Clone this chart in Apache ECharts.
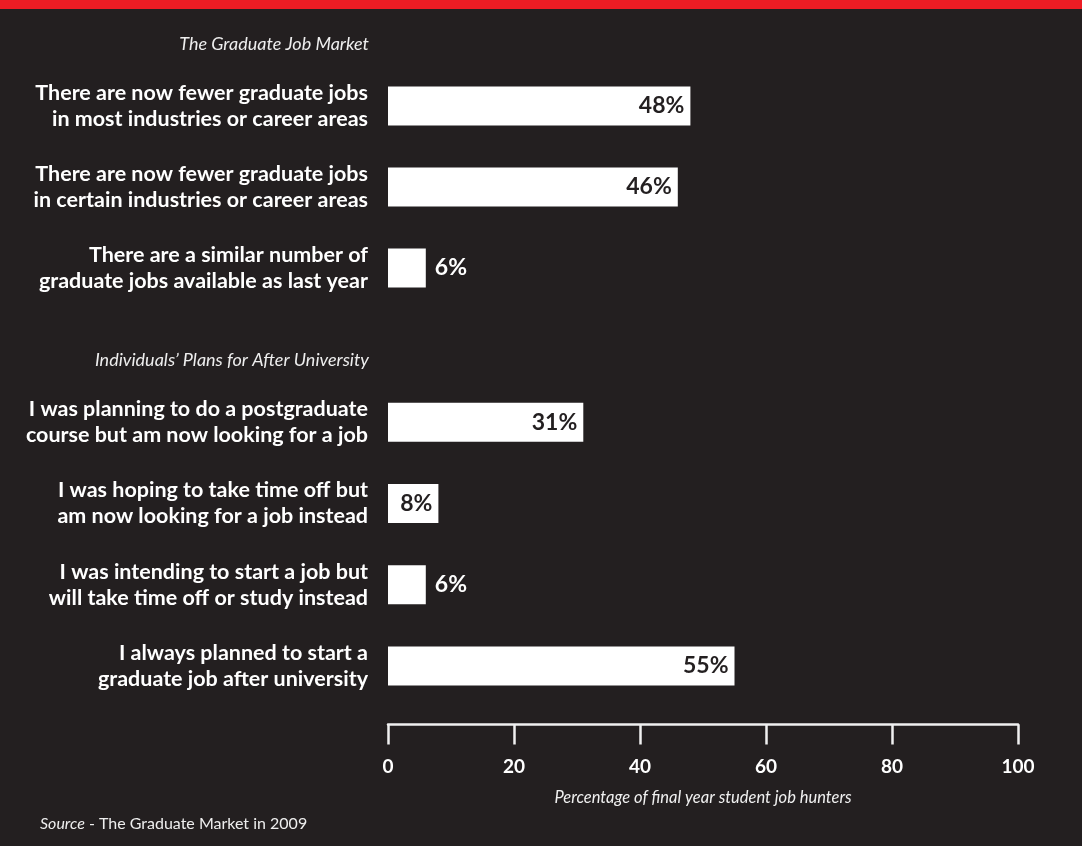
<!DOCTYPE html>
<html>
<head>
<meta charset="utf-8">
<script src="https://cdn.jsdelivr.net/npm/echarts@6/dist/echarts.min.js"></script>
<style>
  html, body { margin: 0; padding: 0; background: #231f20; }
  #chart { width: 1082px; height: 846px; }
</style>
</head>
<body>
<div id="chart"></div>
<script>
// Survey results: the graduate job market
const marketLabels = [
  'There are now fewer graduate jobs\nin most industries or career areas',
  'There are now fewer graduate jobs\nin certain industries or career areas',
  'There are a similar number of\ngraduate jobs available as last year'
];
const marketValues = [48, 46, 6];

// Survey results: individuals' plans for after university
const planLabels = [
  'I was planning to do a postgraduate\ncourse but am now looking for a job',
  'I was hoping to take time off but\nam now looking for a job instead',
  'I was intending to start a job but\nwill take time off or study instead',
  'I always planned to start a\ngraduate job after university'
];
const planValues = [31, 8, 6, 55];

const sectionTitles = ['The Graduate Job Market', 'Individuals\u2019 Plans for After University'];
const xTicks = [0, 20, 40, 60, 80, 100];
const axisTitle = 'Percentage of final year student job hunters';

const BG = '#231f20';
const FONT = 'Lato, "Open Sans", sans-serif';

// Short bars carry their value outside in white; longer ones inside in dark text
function barData(values) {
  return values.map(v => ({
    value: v,
    label: v < 7
      ? { position: 'right', distance: 9, color: '#ffffff' }
      : { position: 'insideRight', distance: 6, color: BG }
  }));
}

function catAxis(idx, labels) {
  return {
    type: 'category', gridIndex: idx, data: labels, inverse: true,
    axisLine: { show: false }, axisTick: { show: false },
    axisLabel: {
      color: '#ffffff', fontFamily: FONT, fontWeight: 'bold', fontSize: 21.5,
      lineHeight: 26, align: 'right', margin: 20
    }
  };
}

const valueLabel = { show: true, fontFamily: FONT, fontWeight: 'bold', fontSize: 23, formatter: '{c}%' };

const chart = echarts.init(document.getElementById('chart'), null, { renderer: 'canvas' });
chart.setOption({
  backgroundColor: BG,
  animation: false,
  grid: [
    { left: 388, right: 64, top: 65.5, height: 243 },
    { left: 388, right: 64, top: 381.5, height: 325 }
  ],
  xAxis: [
    { type: 'value', gridIndex: 0, min: 0, max: 100, show: false },
    {
      type: 'value', gridIndex: 1, min: 0, max: 100, interval: 20,
      offset: 18,
      axisLine: { show: true, lineStyle: { color: '#f0f0f0', width: 2.5 } },
      axisTick: { show: true, length: 20, lineStyle: { color: '#f0f0f0', width: 2.5 } },
      splitLine: { show: false },
      axisLabel: {
        color: '#ffffff', fontFamily: FONT, fontWeight: 'bold', fontSize: 19, margin: 33,
        formatter: v => (xTicks.includes(v) ? String(v) : '')
      },
      name: axisTitle, nameLocation: 'middle', nameGap: 65,
      nameTextStyle: { color: '#f0f0f0', fontFamily: FONT, fontStyle: 'italic', fontSize: 16.5 }
    }
  ],
  yAxis: [catAxis(0, marketLabels), catAxis(1, planLabels)],
  series: [
    {
      type: 'bar', xAxisIndex: 0, yAxisIndex: 0, barWidth: 39,
      itemStyle: { color: '#ffffff' },
      label: valueLabel,
      data: barData(marketValues)
    },
    {
      type: 'bar', xAxisIndex: 1, yAxisIndex: 1, barWidth: 39,
      itemStyle: { color: '#ffffff' },
      label: valueLabel,
      data: barData(planValues)
    }
  ],
  graphic: [
    { type: 'rect', left: 0, top: 0, shape: { width: 1082, height: 9 }, style: { fill: '#ed1c24' } },
    {
      type: 'text', right: 713, top: 35,
      style: { text: sectionTitles[0], fill: '#eeeeee', font: 'italic 18px ' + FONT, align: 'right' }
    },
    {
      type: 'text', right: 713, top: 351,
      style: { text: sectionTitles[1], fill: '#eeeeee', font: 'italic 18px ' + FONT, align: 'right' }
    },
    {
      type: 'text', left: 40, top: 816,
      style: {
        text: '{i|Source} - The Graduate Market in 2009',
        fill: '#eeeeee', font: '16px ' + FONT,
        rich: { i: { fontStyle: 'italic', fontSize: 16, fontFamily: FONT, fill: '#eeeeee' } }
      }
    }
  ]
});
</script>
</body>
</html>
